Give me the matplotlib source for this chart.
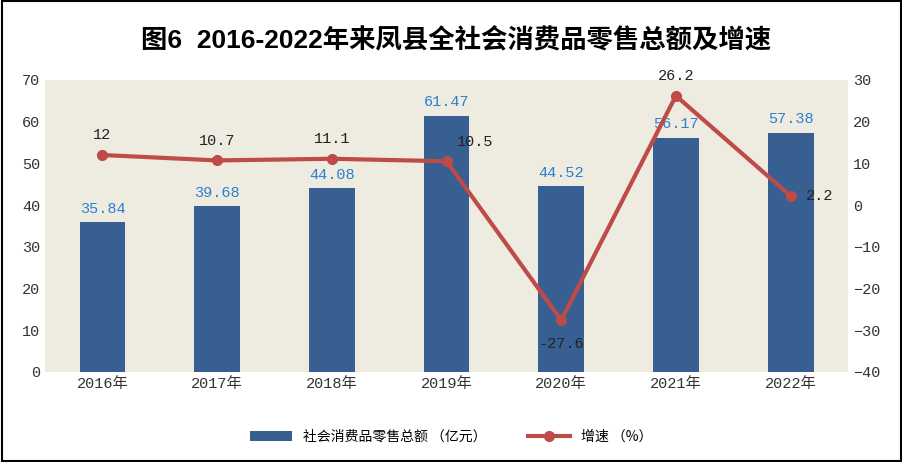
import matplotlib.pyplot as plt
from matplotlib.patches import Rectangle

plt.rcParams['font.family'] = ['Liberation Mono', 'Noto Sans CJK SC']

years = ['2016年', '2017年', '2018年', '2019年', '2020年', '2021年', '2022年']
sales = [35.84, 39.68, 44.08, 61.47, 44.52, 56.17, 57.38]
growth = [12, 10.7, 11.1, 10.5, -27.6, 26.2, 2.2]

fig = plt.figure(figsize=(9.03, 4.62), dpi=100)
fig.patches.append(Rectangle((0.002, 0.003), 0.996, 0.994, transform=fig.transFigure,
                             fill=False, edgecolor='black', linewidth=1.5))
ax = fig.add_axes([0.050, 0.195, 0.889, 0.632])
ax.set_facecolor('#EEEBE0')
x = range(len(years))
bars = ax.bar(x, sales, width=0.4, color='#375F92', label='社会消费品零售总额 （亿元）', zorder=2)
ax.set_ylim(0, 70)
ax.set_yticks(range(0, 71, 10))
ax.set_xlim(-0.5, len(years) - 0.5)
ax.set_xticks(list(x))
ax.set_xticklabels(years)
for xi, v in zip(x, sales):
    ax.text(xi, v + 1.5, f'{v:.2f}', ha='center', va='bottom', color='#2E7FD0', fontsize=11)
for s in ax.spines.values():
    s.set_visible(False)
ax.tick_params(length=0, labelsize=11, colors='#333333')

ax2 = ax.twinx()
line, = ax2.plot(list(x), growth, color='#BE4B48', linewidth=3, marker='o', markersize=7,
                 label='增速 （%）', zorder=3)
ax2.set_ylim(-40, 30)
ax2.set_yticks(range(-40, 31, 10))
for s in ax2.spines.values():
    s.set_visible(False)
ax2.tick_params(length=0, labelsize=11, colors='#333333')
offs = {0: (0, 3), 1: (0, 3), 2: (0, 3), 3: (0.25, 3), 4: (0, -4), 5: (0, 3), 6: (0.25, 0)}
for i, v in enumerate(growth):
    dx, dy = offs[i]
    ax2.text(i + dx, v + dy, f'{v:g}', ha='center',
             va='bottom' if dy > 0 else ('top' if dy < 0 else 'center'), fontsize=11, color='#222222')

fig.text(0.505, 0.915, '图6  2016-2022年来凤县全社会消费品零售总额及增速', ha='center', va='center',
         fontsize=19, fontweight='bold', family=['Liberation Sans', 'Noto Sans CJK SC'])
fig.legend(handles=[bars, line], loc='center', bbox_to_anchor=(0.5, 0.055), ncol=2, frameon=False,
           handlelength=3, columnspacing=3,
           prop={'family': ['Noto Sans CJK SC'], 'size': 10})
fig.savefig('out.png', dpi=100)
